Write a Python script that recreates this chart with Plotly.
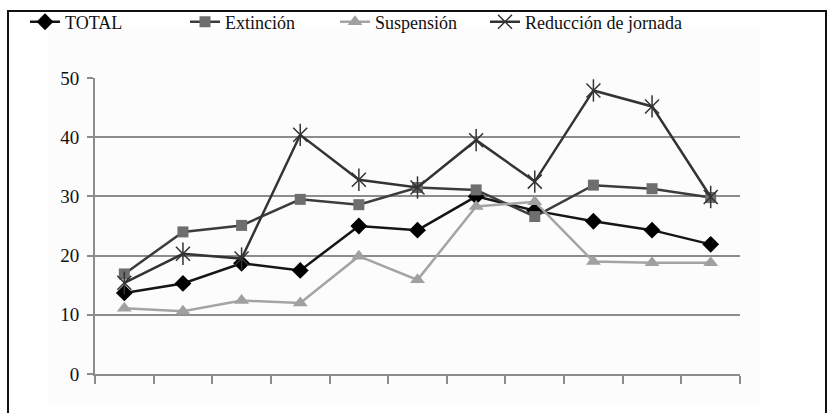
import plotly.graph_objects as go

# Eleven consecutive periods (no labels are printed on the category axis)
periodos = list(range(11))

total = [13.7, 15.3, 18.7, 17.5, 25.0, 24.3, 30.0, 27.6, 25.8, 24.3, 21.9]
extincion = [16.9, 24.0, 25.1, 29.5, 28.6, 31.5, 31.1, 26.6, 31.9, 31.3, 29.8]
suspension = [11.1, 10.6, 12.4, 12.0, 19.9, 15.9, 28.3, 29.1, 19.0, 18.8, 18.8]
reduccion = [15.4, 20.3, 19.5, 40.4, 32.8, 31.5, 39.5, 32.5, 47.9, 45.2, 29.9]

y_ticks = [0, 10, 20, 30, 40, 50]

FONT = "Liberation Serif, Times New Roman, serif"
GRID = "#8c8c8c"
W, H = 829, 413

fig = go.Figure()

fig.add_trace(go.Scatter(
    x=periodos, y=total, name="TOTAL", mode="lines+markers",
    line=dict(color="#151515", width=2.5),
    marker=dict(symbol="diamond", size=13, color="#000000"),
    legend="legend",
))
fig.add_trace(go.Scatter(
    x=periodos, y=extincion, name="Extinción", mode="lines+markers",
    line=dict(color="#3c3c3c", width=2.5),
    marker=dict(symbol="square", size=11, color="#6e6e6e"),
    legend="legend2",
))
fig.add_trace(go.Scatter(
    x=periodos, y=suspension, name="Suspensión", mode="lines+markers",
    line=dict(color="#a4a4a4", width=2.5),
    marker=dict(symbol="triangle-up", size=13, color="#a0a0a0"),
    legend="legend3",
))
fig.add_trace(go.Scatter(
    x=periodos, y=reduccion, name="Reducción de jornada", mode="lines+markers",
    line=dict(color="#333333", width=2.5),
    marker=dict(symbol="x-thin-open", size=14, color="#333333",
                line=dict(width=1.5, color="#333333")),
    legend="legend4",
))
# vertical stroke that turns the x marks into six-armed stars
fig.add_trace(go.Scatter(
    x=periodos, y=reduccion, mode="markers", showlegend=False, hoverinfo="skip",
    marker=dict(symbol="line-ns-open", size=16, color="#333333",
                line=dict(width=1.5, color="#333333")),
))

PLOT_L, PLOT_R, PLOT_T, PLOT_B = 95, 740, 78, 374


def px_to_paper_x(px):
    return (px - PLOT_L) / (PLOT_R - PLOT_L)


def px_to_paper_y(py):
    return (PLOT_B - py) / (PLOT_B - PLOT_T)


def legend_at(center_px, center_py=22):
    return dict(
        xref="container", yref="container",
        x=(center_px - 20) / W, xanchor="left",
        y=1 - center_py / H, yanchor="middle",
        orientation="h", bgcolor="rgba(0,0,0,0)", borderwidth=0,
        font=dict(family=FONT, size=18, color="#111111"),
        itemwidth=30,
    )


fig.update_layout(
    width=W, height=H,
    margin=dict(l=PLOT_L, r=W - PLOT_R, t=PLOT_T, b=H - PLOT_B, autoexpand=False),
    paper_bgcolor="white", plot_bgcolor="rgba(0,0,0,0)",
    font=dict(family=FONT, size=18, color="#111111"),
    legend=legend_at(45),
    legend2=legend_at(205),
    legend3=legend_at(355),
    legend4=legend_at(505),
    xaxis=dict(
        range=[-0.5, 10.5],
        tickmode="array", tickvals=[i - 0.5 for i in range(12)],
        showticklabels=False, ticks="outside", ticklen=8,
        tickcolor=GRID, tickwidth=1.5,
        showgrid=False, zeroline=False,
        showline=True, linecolor=GRID, linewidth=2,
        fixedrange=True,
    ),
    yaxis=dict(
        range=[0, 50], tickmode="array", tickvals=y_ticks,
        ticks="outside", ticklen=6, tickcolor=GRID, tickwidth=1.5,
        ticklabelstandoff=4,
        showgrid=True, gridcolor=GRID, gridwidth=2,
        zeroline=False, showline=True, linecolor=GRID, linewidth=2,
        tickfont=dict(family=FONT, size=19, color="#111111"),
        fixedrange=True,
    ),
    shapes=[
        # faint chart-area panel
        dict(type="rect", xref="paper", yref="paper", layer="below",
             x0=px_to_paper_x(48), x1=px_to_paper_x(760),
             y0=px_to_paper_y(405), y1=px_to_paper_y(28),
             fillcolor="#fcfcfc", line=dict(width=0)),
        # outer frame
        dict(type="rect", xref="paper", yref="paper", layer="above",
             x0=px_to_paper_x(8), x1=px_to_paper_x(826),
             y0=px_to_paper_y(440), y1=px_to_paper_y(11),
             fillcolor="rgba(0,0,0,0)", line=dict(width=2, color="#111111")),
    ],
)

fig.write_html("out.html")
